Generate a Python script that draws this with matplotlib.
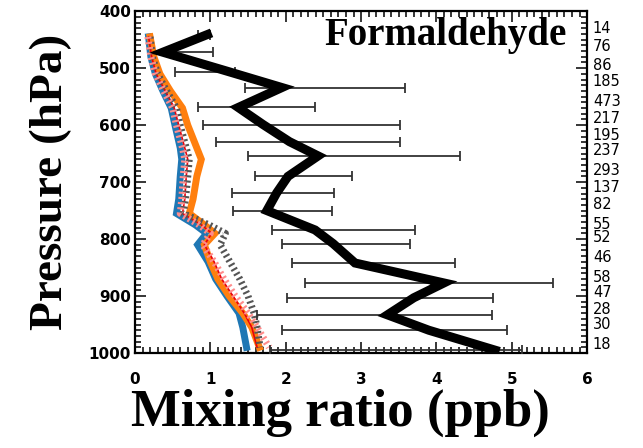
import numpy as np
import matplotlib
matplotlib.use("Agg")
import matplotlib.pyplot as plt
from matplotlib.ticker import MultipleLocator
from matplotlib import transforms

# observed formaldehyde profile (black line + bars)
p_obs = [441, 472, 506, 534, 569, 599, 629, 654, 690, 719, 750,
         784, 808, 842, 877, 903, 933, 960, 995]
obs_mean = [0.96, 0.37, 1.24, 1.95, 1.37, 1.70, 2.05, 2.43, 2.03, 1.88, 1.75,
            2.39, 2.63, 2.92, 4.10, 3.70, 3.35, 3.90, 4.78]
obs_lo = [0.84, 0.40, 0.53, 1.46, 0.84, 0.90, 1.08, 1.50, 1.59, 1.29, 1.30,
          1.82, 1.95, 2.08, 2.25, 2.02, 1.62, 1.95, 1.79]
obs_hi = [1.00, 1.04, 1.33, 3.59, 2.39, 3.52, 3.52, 4.31, 2.88, 2.64, 2.61,
          3.72, 3.65, 4.25, 5.55, 4.75, 4.74, 4.94, 5.14]
counts = ["14", "76", "86", "185", "473", "217", "195", "237", "293", "137",
          "82", "55", "52", "46", "58", "47", "28", "30", "18"]

# model profiles
p_mod = [445, 480, 510, 540, 570, 600, 640, 660, 690, 730, 755,
         775, 790, 810, 840, 870, 900, 930, 955, 990]
blue = [0.18, 0.21, 0.27, 0.37, 0.48, 0.53, 0.60, 0.62, 0.60, 0.58, 0.55,
        0.80, 0.95, 0.83, 0.97, 1.07, 1.22, 1.38, 1.43, 1.48]
orange = [0.20, 0.25, 0.33, 0.47, 0.63, 0.70, 0.82, 0.88, 0.82, 0.77, 0.72,
          0.92, 1.06, 0.92, 1.00, 1.10, 1.25, 1.43, 1.55, 1.65]
red = [0.18, 0.22, 0.28, 0.40, 0.52, 0.58, 0.66, 0.70, 0.68, 0.66, 0.63,
       0.88, 1.02, 0.92, 1.05, 1.15, 1.30, 1.45, 1.55, 1.62]
pink = [0.17, 0.21, 0.27, 0.38, 0.50, 0.55, 0.63, 0.66, 0.64, 0.62, 0.60,
        0.85, 1.00, 0.90, 1.05, 1.18, 1.33, 1.50, 1.62, 1.78]
gray = [0.20, 0.23, 0.30, 0.42, 0.55, 0.60, 0.68, 0.72, 0.70, 0.67, 0.64,
        0.98, 1.20, 1.13, 1.26, 1.39, 1.50, 1.58, 1.62, 1.66]

fig = plt.figure(figsize=(6.43, 4.48), dpi=100)
ax = fig.add_axes([0.210, 0.212, 0.703, 0.763])

ax.plot(blue, p_mod, color="#1f77b4", lw=5, solid_joinstyle="miter", zorder=2)
ax.plot(orange, p_mod, color="#ff7f0e", lw=5, solid_joinstyle="miter", zorder=2)
ax.plot(red, p_mod, color="#e8000b", lw=1.2, zorder=3)
ax.plot(gray, p_mod, color="#555555", lw=5, dashes=(0.3, 0.45),
        dash_capstyle="butt", zorder=3)
ax.plot(pink, p_mod, color="#ff8c8c", lw=5, dashes=(0.3, 0.45),
        dash_capstyle="butt", zorder=4)

lo = np.array(obs_lo)
hi = np.array(obs_hi)
ax.errorbar((lo + hi) / 2, p_obs, xerr=(hi - lo) / 2, fmt="none",
            ecolor="#333333", elinewidth=1.3, capsize=3.5, capthick=1.3, zorder=5)
ax.plot(obs_mean, p_obs, color="black", lw=6.5, solid_joinstyle="miter", zorder=6)

ax.set_xlim(0, 6)
ax.set_ylim(1000, 400)
ax.xaxis.set_major_locator(MultipleLocator(1))
ax.xaxis.set_minor_locator(MultipleLocator(0.1))
ax.yaxis.set_major_locator(MultipleLocator(100))
ax.yaxis.set_minor_locator(MultipleLocator(10))
ax.tick_params(which="both", direction="in", top=True, right=True, width=1.1)
ax.tick_params(which="major", length=8)
ax.tick_params(which="minor", length=4)
ax.tick_params(axis="x", pad=14)
ax.tick_params(axis="y", pad=3)
for lab in ax.get_xticklabels() + ax.get_yticklabels():
    lab.set_fontfamily("DejaVu Sans")
    lab.set_fontweight("bold")
    lab.set_fontsize(11)
for s in ax.spines.values():
    s.set_linewidth(1.6)

ax.set_xlabel("Mixing ratio (ppb)", family="Liberation Serif", weight="bold",
              fontsize=38)
ax.xaxis.set_label_coords(0.455, -0.105)
ax.set_ylabel("Pressure (hPa)", family="Liberation Serif", weight="bold",
              fontsize=34)
ax.yaxis.set_label_coords(-0.139, 0.5)

ax.text(0.955, 0.93, "Formaldehyde", transform=ax.transAxes, ha="right",
        va="center", family="Liberation Serif", weight="bold", fontsize=28)

trans = transforms.blended_transform_factory(ax.transAxes, ax.transData)
for p, c in zip(p_obs, counts):
    ax.text(1.013, p - 10, c, transform=trans, ha="left", va="center",
            family="DejaVu Sans", fontsize=10.5, clip_on=False)

fig.savefig("out.png", dpi=100)
